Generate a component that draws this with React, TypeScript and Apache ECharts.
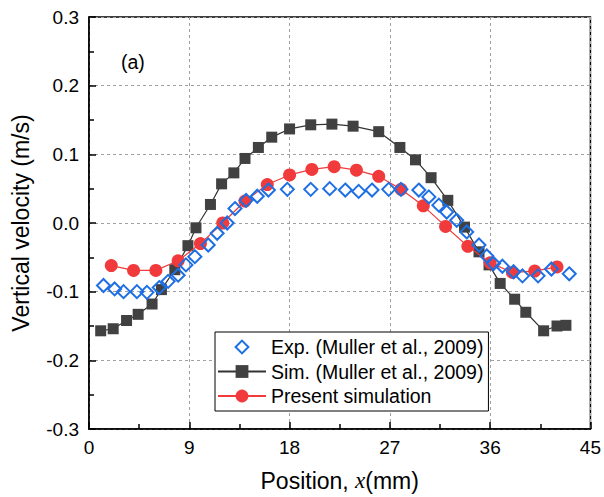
import React, { useEffect, useRef } from "react";
import * as echarts from "echarts";

const xTicks = [0, 9, 18, 27, 36, 45];
const yTickLabels = ["-0.3", "-0.2", "-0.1", "0.0", "0.1", "0.2", "0.3"];

const expX = [1.3, 2.3, 3.1, 4.3, 5.2, 6.3, 7.1, 8.0, 8.7, 9.5, 10.7, 11.5, 12.4, 13.1, 14.1, 15.1, 16.1, 17.8, 19.9, 21.6, 23.0, 24.2, 25.4, 26.9, 28.0, 29.6, 30.5, 31.4, 32.1, 33.0, 33.9, 35.0, 35.7, 36.3, 37.1, 38.1, 38.9, 40.3, 41.5, 43.1];
const expV = [-0.091, -0.096, -0.1, -0.1, -0.101, -0.094, -0.085, -0.076, -0.061, -0.049, -0.032, -0.015, 0.0, 0.021, 0.033, 0.039, 0.048, 0.049, 0.049, 0.05, 0.048, 0.046, 0.048, 0.049, 0.049, 0.048, 0.038, 0.026, 0.016, 0.004, -0.013, -0.032, -0.048, -0.059, -0.063, -0.071, -0.077, -0.077, -0.067, -0.074];

const simX = [1.05, 2.17, 3.37, 4.41, 5.66, 6.5, 7.7, 8.88, 9.6, 10.9, 11.9, 13.0, 14.0, 15.2, 16.4, 18.0, 19.9, 21.8, 23.7, 26.0, 27.9, 29.3, 30.7, 32.2, 33.7, 35.0, 35.9, 36.9, 38.2, 39.2, 40.8, 42.0, 42.8];
const simV = [-0.157, -0.154, -0.142, -0.133, -0.118, -0.097, -0.068, -0.033, -0.007, 0.027, 0.057, 0.073, 0.094, 0.11, 0.125, 0.137, 0.143, 0.144, 0.141, 0.133, 0.11, 0.092, 0.066, 0.033, -0.006, -0.042, -0.061, -0.088, -0.111, -0.13, -0.157, -0.15, -0.149];

const presX = [2, 4, 6, 8, 10, 12, 14, 16, 18, 20, 22, 24, 26, 28, 30, 32, 34, 36, 38, 40, 42];
const presV = [-0.062, -0.069, -0.069, -0.055, -0.03, 0.0, 0.032, 0.056, 0.07, 0.078, 0.082, 0.077, 0.068, 0.049, 0.025, -0.005, -0.034, -0.058, -0.072, -0.07, -0.064];

const seriesNames = ["Exp. (Muller et al., 2009)", "Sim. (Muller et al., 2009)", "Present simulation"];
const panelLabel = "(a)";
const xAxisTitle = "Position, {i|x}(mm)";
const yAxisTitle = "Vertical velocity (m/s)";

const zip = (xs: number[], ys: number[]) => xs.map((x, i) => [x, ys[i]]);

const FONT = "Liberation Sans";

export default function App() {
  const ref = useRef<HTMLDivElement>(null);
  useEffect(() => {
    document.body.style.margin = "0";
    const chart = echarts.init(ref.current!, null, { renderer: "svg" });
    chart.setOption({
      animation: false,
      backgroundColor: "#fff",
      grid: {
        left: 89,
        right: 12,
        top: 17,
        bottom: 67,
        show: true,
        borderColor: "#000",
        borderWidth: 1.5,
        backgroundColor: "transparent",
      },
      legend: {
        orient: "vertical",
        left: 215,
        top: 332,
        data: seriesNames,
        backgroundColor: "#fff",
        borderColor: "#000",
        borderWidth: 1,
        borderRadius: 0,
        padding: [5, 5, 5, 2],
        itemWidth: 48,
        itemHeight: 16,
        itemGap: 4.5,
        textStyle: { fontFamily: FONT, fontSize: 19.5, color: "#000" },
      },
      xAxis: {
        type: "value",
        min: 0,
        max: 45,
        interval: 9,
        name: xAxisTitle,
        nameLocation: "middle",
        nameGap: 40,
        nameTextStyle: {
          fontFamily: FONT,
          fontSize: 23,
          color: "#000",
          rich: {
            i: { fontFamily: "Liberation Serif", fontStyle: "italic", fontSize: 23, color: "#000" },
          },
        },
        axisLine: { show: true, onZero: false, lineStyle: { color: "#000", width: 1.5 } },
        axisTick: { show: true, inside: true, length: 7, lineStyle: { color: "#000", width: 1.5 } },
        minorTick: { show: true, splitNumber: 2, length: 5, lineStyle: { color: "#000", width: 1.5 } },
        axisLabel: {
          margin: 9,
          fontFamily: FONT,
          fontSize: 19,
          color: "#000",
          formatter: (v: number) => (xTicks.includes(v) ? String(v) : ""),
        },
        splitLine: { show: true, lineStyle: { color: "#a0a0a0", type: [3, 3], width: 1 } },
      },
      yAxis: {
        type: "value",
        min: -0.3,
        max: 0.3,
        interval: 0.1,
        name: yAxisTitle,
        nameLocation: "middle",
        nameGap: 57,
        nameTextStyle: { fontFamily: FONT, fontSize: 23, color: "#000" },
        axisLine: { show: true, onZero: false, lineStyle: { color: "#000", width: 1.5 } },
        axisTick: { show: true, inside: true, length: 7, lineStyle: { color: "#000", width: 1.5 } },
        minorTick: { show: true, splitNumber: 2, length: 5, lineStyle: { color: "#000", width: 1.5 } },
        axisLabel: {
          margin: 10,
          fontFamily: FONT,
          fontSize: 19,
          color: "#000",
          formatter: (v: number) => {
            const idx = Math.round((v + 0.3) * 10);
            return yTickLabels[idx] ?? v.toFixed(1);
          },
        },
        splitLine: { show: true, lineStyle: { color: "#a0a0a0", type: [3, 3], width: 1 } },
      },
      graphic: [
        {
          type: "text",
          left: 121,
          top: 52,
          style: { text: panelLabel, fontFamily: FONT, fontSize: 19.5, fill: "#000" },
        },
      ],
      series: [
        {
          name: seriesNames[0],
          type: "line",
          data: zip(expX, expV),
          symbol: "diamond",
          symbolSize: 13,
          z: 5,
          lineStyle: { opacity: 0, width: 0 },
          itemStyle: { color: "rgba(255,255,255,0)", borderColor: "#1E6FE3", borderWidth: 2 },
        },
        {
          name: seriesNames[1],
          type: "line",
          data: zip(simX, simV),
          symbol: "rect",
          symbolSize: 11,
          z: 3,
          lineStyle: { color: "#333", width: 1.2 },
          itemStyle: { color: "#414141" },
        },
        {
          name: seriesNames[2],
          type: "line",
          data: zip(presX, presV),
          symbol: "circle",
          symbolSize: 13,
          z: 4,
          lineStyle: { color: "#F03A3C", width: 1.2 },
          itemStyle: { color: "#F03A3C" },
        },
      ],
    });
    return () => chart.dispose();
  }, []);
  return <div ref={ref} style={{ width: 604, height: 497, position: "absolute", left: 0, top: 0 }} />;
}
